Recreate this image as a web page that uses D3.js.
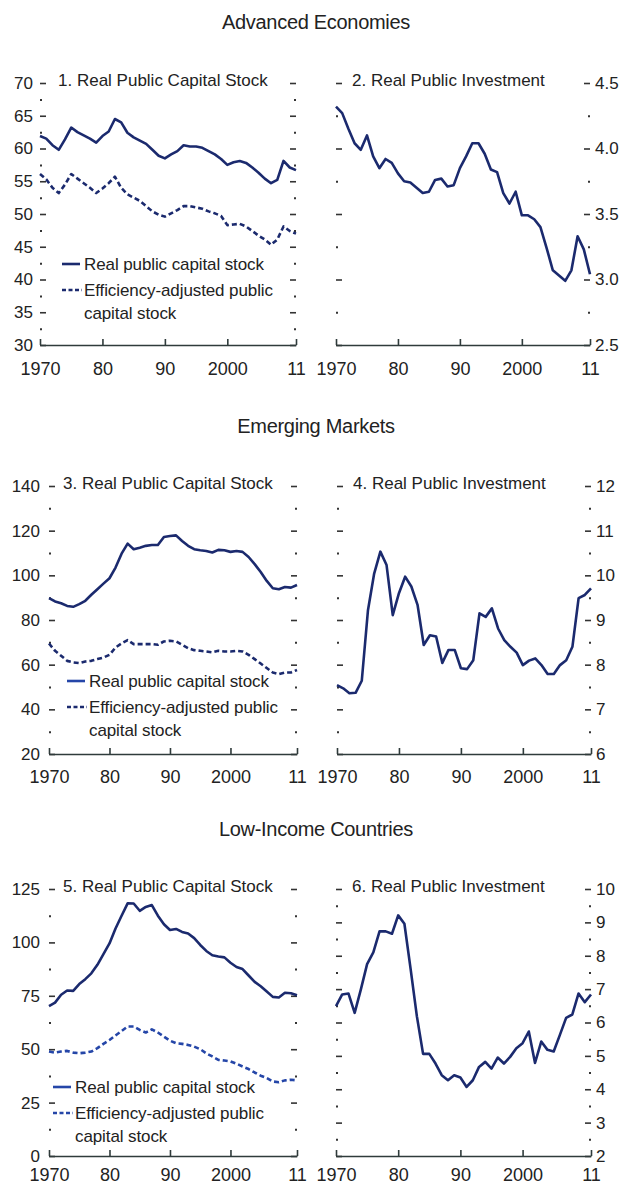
<!DOCTYPE html>
<html lang="en">
<head>
<meta charset="UTF-8">
<title>Public capital stock and public investment</title>
<script src="https://d3js.org/d3.v7.min.js"></script>
<style>
  body { margin: 0; background: #fff; font-family: "Liberation Sans", Arial, sans-serif; }
  svg text { fill: #222; }
  .axis .domain { display: none; }
  .axis line { stroke: #333; stroke-width: 1.6; }
  .minor line { stroke-width: 2; }
  .xaxis .domain { display: inline; stroke: #2f3b3b; stroke-width: 1.6; }
  .xaxis line { stroke: #2f3b3b; stroke-width: 1.6; }
  .section { font-size: 20px; letter-spacing: -0.3px; }
  .ptitle { font-size: 17px; letter-spacing: 0px; }
  .legend { font-size: 17px; letter-spacing: -0.1px; }
</style>
</head>
<body>
<svg width="626" height="1185"></svg>
<script>
const years = [1970, 1971, 1972, 1973, 1974, 1975, 1976, 1977, 1978, 1979,
  1980, 1981, 1982, 1983, 1984, 1985, 1986, 1987, 1988, 1989,
  1990, 1991, 1992, 1993, 1994, 1995, 1996, 1997, 1998, 1999,
  2000, 2001, 2002, 2003, 2004, 2005, 2006, 2007, 2008, 2009,
  2010, 2011];

// Advanced economies
const aeCapital = [61.9, 61.5, 60.5, 59.8, 61.4, 63.2, 62.5, 62.0, 61.5, 60.9,
  61.9, 62.6, 64.5, 64.0, 62.4, 61.7, 61.2, 60.7, 59.8, 58.9,
  58.5, 59.1, 59.6, 60.5, 60.3, 60.3, 60.1, 59.6, 59.1, 58.4,
  57.5, 57.9, 58.1, 57.8, 57.1, 56.3, 55.4, 54.7, 55.2, 58.1,
  57.1, 56.7];
const aeCapitalEff = [56.1, 55.3, 54.0, 53.2, 54.5, 56.1, 55.4, 54.7, 54.0, 53.2,
  53.9, 54.7, 55.7, 54.0, 53.0, 52.5, 52.0, 51.2, 50.4, 49.9,
  49.6, 50.1, 50.6, 51.2, 51.2, 51.0, 50.8, 50.4, 50.1, 49.7,
  48.3, 48.4, 48.5, 48.1, 47.4, 46.7, 46.1, 45.3, 46.1, 48.1,
  47.4, 47.0];
const aeInvest = [4.32, 4.27, 4.15, 4.04, 3.99, 4.10, 3.94, 3.85, 3.92, 3.89,
  3.81, 3.75, 3.74, 3.70, 3.66, 3.67, 3.76, 3.77, 3.71, 3.72,
  3.85, 3.94, 4.04, 4.04, 3.96, 3.84, 3.82, 3.66, 3.58, 3.67,
  3.49, 3.49, 3.46, 3.40, 3.24, 3.07, 3.03, 2.99, 3.07, 3.33,
  3.23, 3.04];

// Emerging markets
const emCapital = [89.8, 88.3, 87.5, 86.3, 85.9, 87.1, 88.6, 91.3, 93.8, 96.3,
  98.7, 103.5, 109.7, 114.2, 111.7, 112.4, 113.2, 113.6, 113.6, 117.2,
  117.6, 117.9, 115.4, 113.2, 111.7, 111.2, 110.9, 110.2, 111.4, 111.2,
  110.5, 110.9, 110.5, 108.2, 105.0, 101.5, 97.5, 94.2, 93.8, 94.8,
  94.5, 95.7];
const emCapitalEff = [69.5, 66.2, 64.0, 61.7, 61.0, 60.7, 61.4, 61.7, 62.5, 63.2,
  64.4, 67.7, 69.5, 71.0, 69.2, 69.2, 69.2, 69.2, 68.9, 70.4,
  70.7, 70.4, 68.9, 67.4, 66.5, 66.2, 65.9, 65.5, 66.2, 65.9,
  65.9, 66.2, 65.9, 64.4, 62.5, 60.5, 58.5, 56.5, 55.8, 56.5,
  56.5, 57.6];
const emInvest = [7.54, 7.47, 7.36, 7.37, 7.64, 9.22, 10.04, 10.53, 10.23, 9.11,
  9.60, 9.97, 9.75, 9.34, 8.44, 8.66, 8.63, 8.04, 8.33, 8.33,
  7.92, 7.90, 8.10, 9.15, 9.07, 9.26, 8.81, 8.55, 8.40, 8.27,
  7.99, 8.09, 8.14, 7.99, 7.79, 7.79, 7.99, 8.10, 8.40, 9.49,
  9.56, 9.71];

// Low-income countries
const licCapital = [70.2, 71.8, 75.5, 77.5, 77.3, 80.5, 82.8, 85.5, 89.5, 94.5,
  99.5, 106.5, 112.5, 118.3, 118.2, 114.8, 116.6, 117.5, 112.5, 108.5,
  105.8, 106.3, 104.9, 104.2, 102.0, 98.8, 96.0, 94.0, 93.4, 93.0,
  90.5, 88.5, 87.5, 84.5, 81.5, 79.5, 77.0, 74.5, 74.2, 76.4,
  76.2, 75.3];
const licCapitalEff = [48.9, 48.4, 48.9, 49.2, 48.4, 48.1, 48.4, 48.9, 50.5, 52.5,
  54.3, 56.4, 58.5, 60.6, 60.6, 59.0, 57.8, 59.3, 57.8, 55.9,
  54.0, 52.8, 52.5, 52.0, 51.2, 50.0, 48.1, 46.6, 45.0, 44.7,
  44.3, 43.2, 41.9, 40.7, 39.1, 37.6, 36.5, 34.9, 34.5, 35.4,
  35.7, 35.4];
const licInvest = [6.49, 6.84, 6.87, 6.29, 6.99, 7.75, 8.10, 8.73, 8.73, 8.66,
  9.21, 8.96, 7.60, 6.19, 5.06, 5.06, 4.77, 4.42, 4.27, 4.42,
  4.35, 4.07, 4.27, 4.67, 4.82, 4.62, 4.95, 4.77, 4.97, 5.23,
  5.38, 5.73, 4.79, 5.43, 5.18, 5.13, 5.63, 6.14, 6.24, 6.87,
  6.61, 6.84];

// Titles, legend labels and ticks
const sectionTitles = ["Advanced Economies", "Emerging Markets", "Low-Income Countries"];
const panelTitles = ["1. Real Public Capital Stock", "2. Real Public Investment",
  "3. Real Public Capital Stock", "4. Real Public Investment",
  "5. Real Public Capital Stock", "6. Real Public Investment"];
const legendLabels = ["Real public capital stock", "Efficiency-adjusted public", "capital stock"];
const xTicks = [1970, 1980, 1990, 2000, 2011];
const xTickLabels = ["1970", "80", "90", "2000", "11"];

const ticks1 = [30, 35, 40, 45, 50, 55, 60, 65, 70];
const minor1 = [32.5, 37.5, 42.5, 47.5, 52.5, 57.5, 62.5, 67.5];
const ticks2 = [2.5, 3.0, 3.5, 4.0, 4.5];
const minor2 = [2.75, 3.25, 3.75, 4.25];
const ticks3 = [20, 40, 60, 80, 100, 120, 140];
const minor3 = [30, 50, 70, 90, 110, 130];
const ticks4 = [6, 7, 8, 9, 10, 11, 12];
const minor4 = [6.5, 7.5, 8.5, 9.5, 10.5, 11.5];
const ticks5 = [0, 25, 50, 75, 100, 125];
const minor5 = [12.5, 37.5, 62.5, 87.5, 112.5];
const ticks6 = [2, 3, 4, 5, 6, 7, 8, 9, 10];
const minor6 = [2.5, 3.5, 4.5, 5.5, 6.5, 7.5, 8.5, 9.5];

const navy = "#1b2a6e";
const blue = "#2546a8";
const font = "Liberation Sans, Arial, sans-serif";

const svg = d3.select("svg");

const rows = [
  { top: 83, bottom: 345, title: 29, xpad: 17 },
  { top: 486, bottom: 754, title: 433, xpad: 16 },
  { top: 889, bottom: 1156, title: 836, xpad: 12 }
];

const panels = [
  { row: 0, side: "left", x0: 40, x1: 296, ticks: ticks1, minor: minor1, fmt: d3.format("d"),
    series: [aeCapital, aeCapitalEff], colors: [navy, navy],
    legend: { x: 62, y: 264, colors: [navy, navy] } },
  { row: 0, side: "right", x0: 336, x1: 590, ticks: ticks2, minor: minor2, fmt: d3.format(".1f"),
    series: [aeInvest], colors: [navy] },
  { row: 1, side: "left", x0: 49, x1: 297, ticks: ticks3, minor: minor3, fmt: d3.format("d"),
    series: [emCapital, emCapitalEff], colors: [navy, navy],
    legend: { x: 67, y: 681, colors: [blue, navy] } },
  { row: 1, side: "right", x0: 337, x1: 591, ticks: ticks4, minor: minor4, fmt: d3.format("d"),
    series: [emInvest], colors: [navy] },
  { row: 2, side: "left", x0: 49, x1: 297, ticks: ticks5, minor: minor5, fmt: d3.format("d"),
    series: [licCapital, licCapitalEff], colors: [navy, blue],
    legend: { x: 53, y: 1087, colors: [blue, blue] } },
  { row: 2, side: "right", x0: 336, x1: 591, ticks: ticks6, minor: minor6, fmt: d3.format("d"),
    series: [licInvest], colors: [navy] }
];

// section headings
rows.forEach((r, i) => {
  svg.append("text")
    .attr("class", "section")
    .attr("x", 316).attr("y", r.title)
    .attr("text-anchor", "middle")
    .text(sectionTitles[i]);
});

panels.forEach((p, i) => {
  const r = rows[p.row];
  const x = d3.scaleLinear().domain([1970, 2011]).range([p.x0, p.x1]);
  const y = d3.scaleLinear().domain(d3.extent(p.ticks)).range([r.bottom, r.top]);
  const g = svg.append("g");

  // major ticks pointing inward, labels only on the outer side
  const leftAxis = d3.axisLeft(y).tickValues(p.ticks).tickSize(-6).tickPadding(p.x0 > 45 ? 9 : 7)
    .tickFormat(p.side === "left" ? p.fmt : "");
  const rightAxis = d3.axisRight(y).tickValues(p.ticks).tickSize(-6).tickPadding(5)
    .tickFormat(p.side === "right" ? p.fmt : "");

  g.append("g").attr("class", "axis").attr("transform", `translate(${p.x0},0)`)
    .call(leftAxis)
    .call(s => s.selectAll("text").style("font-size", "17px").style("font-family", font));
  g.append("g").attr("class", "axis").attr("transform", `translate(${p.x1},0)`)
    .call(rightAxis)
    .call(s => s.selectAll("text").style("font-size", "17px").style("font-family", font));

  // minor ticks (small dots)
  g.append("g").attr("class", "axis minor").attr("transform", `translate(${p.x0},0)`)
    .call(d3.axisLeft(y).tickValues(p.minor).tickSize(-2).tickFormat(""));
  g.append("g").attr("class", "axis minor").attr("transform", `translate(${p.x1},0)`)
    .call(d3.axisRight(y).tickValues(p.minor).tickSize(-2).tickFormat(""));

  // bottom axis
  g.append("g").attr("class", "xaxis").attr("transform", `translate(0,${r.bottom})`)
    .call(d3.axisBottom(x).tickValues(xTicks).tickSize(-6).tickSizeOuter(0).tickPadding(r.xpad)
      .tickFormat((d, k) => xTickLabels[k]))
    .call(s => s.selectAll("text").style("font-size", "18px").style("font-family", font).style("fill", "#222"));

  // panel title
  svg.append("text")
    .attr("class", "ptitle")
    .attr("x", p.side === "left" ? (p.x0 > 45 ? p.x0 + 14 : p.x0 + 18) : p.x0 + 16)
    .attr("y", r.top + 3)
    .text(panelTitles[i]);

  const line = d3.line()
    .x((d, k) => x(years[k]))
    .y(d => y(d));

  p.series.forEach((vals, k) => {
    g.append("path")
      .datum(vals)
      .attr("fill", "none")
      .attr("stroke", p.colors[k])
      .attr("stroke-width", 2.6)
      .attr("stroke-linejoin", "round")
      .attr("stroke-dasharray", k === 1 ? "5,3" : null)
      .attr("d", line);
  });

  // legend
  if (p.legend) {
    const L = p.legend;
    const lg = svg.append("g");
    lg.append("line")
      .attr("x1", L.x).attr("x2", L.x + 18)
      .attr("y1", L.y).attr("y2", L.y)
      .attr("stroke", L.colors[0]).attr("stroke-width", 2.6);
    lg.append("line")
      .attr("x1", L.x).attr("x2", L.x + 20)
      .attr("y1", L.y + 26).attr("y2", L.y + 26)
      .attr("stroke", L.colors[1]).attr("stroke-width", 2.6)
      .attr("stroke-dasharray", "4,2.5");
    [0, 26, 49].forEach((dy, k) => {
      lg.append("text")
        .attr("class", "legend")
        .attr("x", L.x + 22)
        .attr("y", L.y + dy + 6)
        .text(legendLabels[k]);
    });
  }
});
</script>
</body>
</html>
